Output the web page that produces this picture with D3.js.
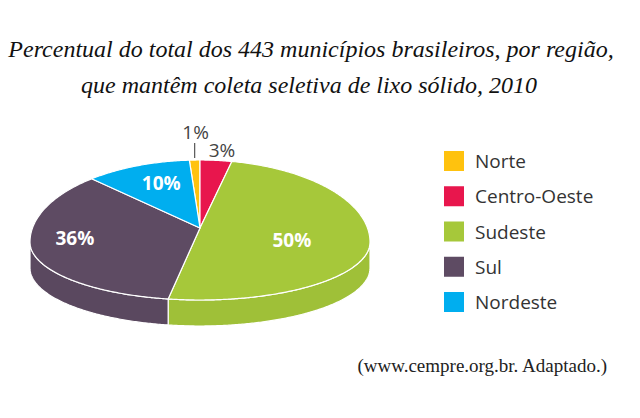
<!DOCTYPE html>
<html>
<head>
<meta charset="utf-8">
<script src="https://cdn.jsdelivr.net/npm/d3@7"></script>
<style>
  body { margin: 0; background: #fff; }
</style>
</head>
<body>
<script>
// Data
var regions = ["Norte", "Centro-Oeste", "Sudeste", "Sul", "Nordeste"];
var percents = [1, 3, 50, 36, 10];
var regionColors = ["#FFC20E", "#E8164D", "#A6C83A", "#5E4B63", "#00AEEF"];
var titleLines = [
  "Percentual do total dos 443 municípios brasileiros, por região,",
  "que mantêm coleta seletiva de lixo sólido, 2010"
];
var sourceText = "(www.cempre.org.br. Adaptado.)";

// Layout: the disc is drawn in slight perspective, so the far half
// is taller than the near half and the centre sits above the widest line
var width = 640, height = 418;
var cx = 200, rx = 170;
var rimY = 242, ryBack = 82, ryFront = 58;
var apexY = 228, depth = 26;
// inside labels: fraction of the radius, and a baseline nudge
var insideLabels = {
  "Sudeste": { k: 0.55, dy: 5 },
  "Sul": { k: 0.76, dy: -5 },
  "Nordeste": { k: 0.62, dy: 1 }
};

var svg = d3.select("body").append("svg")
  .attr("width", width)
  .attr("height", height);

// Title
svg.selectAll("text.title")
  .data(titleLines)
  .enter().append("text")
  .attr("class", "title")
  .attr("x", function(d, i) { return i === 0 ? 311 : 309; })
  .attr("y", function(d, i) { return 57 + i * 36; })
  .attr("text-anchor", "middle")
  .style("font-family", "'Liberation Serif', 'DejaVu Serif', serif")
  .style("font-style", "italic")
  .style("font-size", "24px")
  .style("fill", "#111")
  .text(function(d) { return d; });

var rows = regions.map(function(r, i) {
  return { name: r, value: percents[i], color: regionColors[i] };
});

// Pie starts so that Centro-Oeste begins at 12 o'clock
var startAngle = -2 * Math.PI * percents[0] / d3.sum(percents);
var pie = d3.pie()
  .sort(null)
  .value(function(d) { return d.value; })
  .startAngle(startAngle)
  .endAngle(startAngle + 2 * Math.PI);
var arcs = pie(rows);

// point on the rim of the top face for a pie angle
function pt(a, dy) {
  var c = Math.cos(a);
  return [cx + rx * Math.sin(a), rimY - (c > 0 ? ryBack : ryFront) * c + (dy || 0)];
}
// rim points between two angles
function rim(a0, a1, dy) {
  var n = Math.max(2, Math.ceil((a1 - a0) / 0.01));
  return d3.range(n + 1).map(function(i) { return pt(a0 + (a1 - a0) * i / n, dy); });
}
var line = d3.line();

// Side walls (only the near half is visible)
var sides = svg.append("g");
arcs.forEach(function(d) {
  var s = Math.max(d.startAngle, Math.PI / 2),
      e = Math.min(d.endAngle, 3 * Math.PI / 2);
  if (s >= e) return;
  var pts = rim(s, e, 0).concat(rim(s, e, depth).reverse());
  sides.append("path")
    .attr("d", line(pts) + "Z")
    .attr("fill", d3.color(d.data.color).darker(0.12))
    .attr("stroke", "#fff")
    .attr("stroke-width", 1.2)
    .attr("stroke-linejoin", "round");
});

// Top face
svg.append("g").selectAll("path")
  .data(arcs)
  .enter().append("path")
  .attr("d", function(d) {
    return line([[cx, apexY]].concat(rim(d.startAngle, d.endAngle, 0))) + "Z";
  })
  .attr("fill", function(d) { return d.data.color; })
  .attr("stroke", "#fff")
  .attr("stroke-width", 1.2)
  .attr("stroke-linejoin", "round");

// Slice labels
arcs.forEach(function(d) {
  var mid = (d.startAngle + d.endAngle) / 2;
  var label = d.data.value + "%";
  var p = pt(mid);
  var inside = insideLabels[d.data.name];
  if (inside) {
    svg.append("text")
      .attr("x", cx + inside.k * (p[0] - cx))
      .attr("y", apexY + inside.k * (p[1] - apexY) + inside.dy)
      .attr("text-anchor", "middle")
      .style("font-family", "'Open Sans', sans-serif")
      .style("font-weight", "700")
      .style("font-size", "19px")
      .style("fill", "#fff")
      .text(label);
  } else if (d.data.value < 2) {
    // leader line for the tiny slice
    svg.append("line")
      .attr("x1", p[0]).attr("y1", p[1] - 2)
      .attr("x2", p[0]).attr("y2", p[1] - 17)
      .style("stroke", "#555")
      .style("stroke-width", 1.2);
    svg.append("text")
      .attr("x", p[0] + 1)
      .attr("y", p[1] - 21)
      .attr("text-anchor", "middle")
      .style("font-family", "'Open Sans', sans-serif")
      .style("font-size", "19px")
      .style("fill", "#444")
      .text(label);
  } else {
    svg.append("text")
      .attr("x", p[0] + 6)
      .attr("y", p[1] - 3)
      .attr("text-anchor", "middle")
      .style("font-family", "'Open Sans', sans-serif")
      .style("font-size", "19px")
      .style("fill", "#444")
      .text(label);
  }
});

// Legend
var legendY = d3.scalePoint().domain(regions).range([161, 302]);
var legend = svg.selectAll("g.legend")
  .data(rows)
  .enter().append("g")
  .attr("class", "legend")
  .attr("transform", function(d) { return "translate(444," + legendY(d.name) + ")"; });
legend.append("rect")
  .attr("x", 0).attr("y", -10)
  .attr("width", 20).attr("height", 20)
  .attr("fill", function(d) { return d.color; });
legend.append("text")
  .attr("x", 31).attr("y", 7)
  .style("font-family", "'Open Sans', sans-serif")
  .style("font-size", "19px")
  .style("fill", "#333")
  .text(function(d) { return d.name; });

// Source
svg.append("text")
  .attr("x", 607).attr("y", 372)
  .attr("text-anchor", "end")
  .style("font-family", "'Liberation Serif', serif")
  .style("font-size", "19px")
  .style("fill", "#222")
  .text(sourceText);
</script>
</body>
</html>
